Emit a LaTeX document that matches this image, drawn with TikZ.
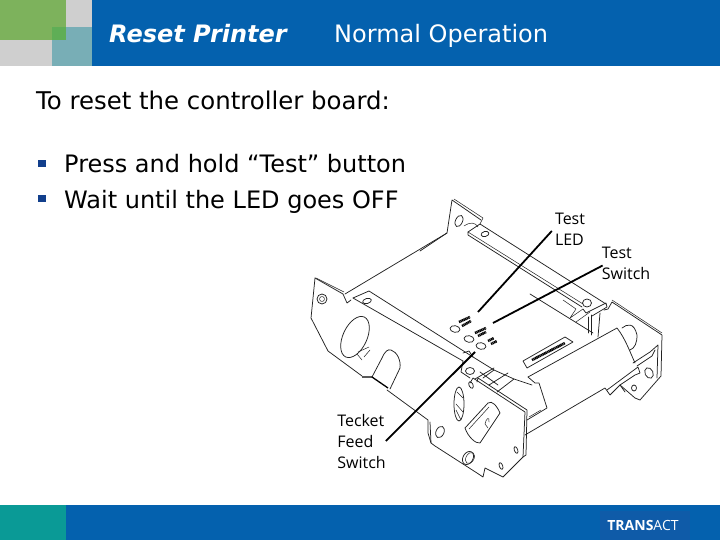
\documentclass[tikz,border=0pt]{standalone}
\usepackage{fontspec}
\setmainfont{DejaVu Sans}
\newfontfamily\labelfont{Open Sans}
\definecolor{headblue}{HTML}{0461AE}
\definecolor{boxblue}{HTML}{0F5BA8}
\definecolor{leafgreen}{HTML}{7DB25C}
\definecolor{lightgray}{HTML}{CFCFCF}
\definecolor{paleteal}{HTML}{78AEB6}
\definecolor{midgreen}{HTML}{5FAE56}
\definecolor{footteal}{HTML}{0A9A96}
\definecolor{bulletnavy}{HTML}{123F8C}
\definecolor{inkgray}{HTML}{222222}
\tikzset{
  slidetext/.style={anchor=base west, inner sep=0pt, font=\fontsize{24}{28}\selectfont},
  partlabel/.style={align=left, inner sep=0pt, font=\labelfont\fontsize{16}{21}\selectfont},
  part/.style={draw=inkgray, line width=0.75pt, line join=round, line cap=round},
  thinpart/.style={draw=inkgray, line width=0.5pt, line join=round, line cap=round},
  pointer/.style={line width=1.8pt},
  tinyprint/.style={line width=2.6pt, dash pattern=on 1.2pt off 0.5pt},
  bulletmark/.style={fill=bulletnavy, inner sep=0pt, minimum width=8pt, minimum height=7pt}
}
\begin{document}
\begin{tikzpicture}[x=1pt, y=-1pt]
        \useasboundingbox (0,0) rectangle (720,540);

        % header and footer
        \fill[headblue] (92,0) rectangle (720,66);
        \fill[lightgray] (0,0) rectangle (92,66);
        \fill[leafgreen] (0,0) rectangle (66,40);
        \fill[paleteal] (52,27) rectangle (92,66);
        \fill[midgreen] (52,27) rectangle (66,40);
        \fill[headblue] (66,505) rectangle (720,540);
        \fill[footteal] (0,505) rectangle (66,540);
        \fill[boxblue] (600,511) rectangle (690,540);

        % texts
        \node (title) [slidetext, white, font=\fontsize{24}{28}\selectfont\bfseries\itshape] at (109,43) {Reset Printer};
        \node (subtitle) [slidetext, white] at (334,43) {Normal Operation};
        \node (intro) [slidetext, font=\fontsize{24.4}{28}\selectfont] at (36,110) {To reset the controller board:};
        \node (bullet1) [bulletmark] at (41.5,163.5) {};
        \node (bullet2) [bulletmark] at (41.5,198.5) {};
        \node (press) [slidetext] at (64,173) {Press and hold “Test” button};
        \node (wait) [slidetext] at (64,208) {Wait until the LED goes OFF};
        \node (logo) [white, inner sep=0pt, font=\labelfont\fontsize{14}{16}\selectfont] at (643,525) {\textbf{TRANS}ACT};

        % rear plate and top panel
        \draw[part] (420,251) -- (447,233) -- (452,200) -- (481,220);
        \draw[thinpart] (454,199) -- (483,218) -- (480,224);
        \draw[part] (447,233) -- (345,294);
        \draw[part] (459,221) ellipse [x radius=3.5, y radius=6, rotate=-25];
        \draw[thinpart] (464,226) .. controls (470,222) and (475,222) .. (478,227);
        \draw[part] (468,232) -- (480,224) -- (606,304);
        \draw[part] (468,232) -- (468,235) -- (582,307);
        \draw[thinpart] (468,232) -- (583,304);
        \draw[part] (485,234) ellipse [x radius=4, y radius=2.5, rotate=15];
        \draw[part] (530,294) -- (593,333);
        \draw[part] (587,303) ellipse [x radius=4.5, y radius=4];
        \draw[part] (583,309) -- (586,313) -- (606,303) -- (607,307) -- (592,316);
        \draw[thinpart] (570,318) -- (583,309) (576,322) -- (590,312) (563,300) -- (576,309) -- (570,318);
        \draw[part] (588,317) -- (588,333) (591,315) -- (591,335);
        \draw[part] (600,313) -- (598,337);

        % left plate
        \draw[part] (315,278) -- (343,294) -- (347,303) -- (351,300);
        \draw[part] (315,278) -- (311,318) -- (328,351) -- (362,376);
        \draw[thinpart] (316,278) -- (344,292);
        \draw[part] (322,299) circle [radius=5];
        \draw[thinpart] (322,299) circle [radius=2.5];
        \draw[part] (355,337) ellipse [x radius=12, y radius=22, rotate=-25];
        \draw[thinpart] (358,352) -- (369,347) (357,354) -- (362,360) (364,357) -- (370,350);
        \draw[part] (372,377) -- (382,358) .. controls (385,351) and (388,349) .. (391,350) .. controls (397,352) and (401,360) .. (400,368) -- (390,389);
        \draw[line width=1.3pt] (362,377) -- (372,377) -- (388,388);
        \draw[part] (387,390) -- (428,420) -- (428,433) -- (431,443);

        % board on the left plate
        \draw[part] (353,298) -- (369,291) -- (473,357);
        \draw[part] (353,298) -- (463,361);
        \draw[part] (367,301) ellipse [x radius=4.5, y radius=2.5, rotate=15];
        \draw[part] (473,357) -- (494,370) -- (483,378);
        \draw[part] (463,361) -- (461,372) -- (470,378);
        \draw[part] (463,353) -- (469,351) -- (473,357);
        \draw[part] (470,371) ellipse [x radius=4.5, y radius=3.5];

        % test marks on the board
        \draw[part] (455,329) ellipse [x radius=5, y radius=3.3, rotate=-10];
        \draw[part] (469,339) ellipse [x radius=5, y radius=3.3, rotate=-10];
        \draw[part] (481,346) ellipse [x radius=5, y radius=3.3, rotate=-10];
        \draw[tinyprint] (459,322) -- (470,317);
        \draw[tinyprint] (462,326) -- (471,321);
        \draw[tinyprint] (475,333) -- (486,328);
        \draw[tinyprint] (478,336) -- (486,332);
        \draw[tinyprint] (488,341) -- (494,338);
        \draw[tinyprint] (491,344) -- (497,341);

        % front plate
        \draw[part] (470,383) -- (473,378) -- (525,412) -- (523,457) -- (503,477) -- (485,468) -- (483,477) -- (477,473) -- (435,446) -- (431,443) -- (430,422);
        \draw[part] (477,382) -- (478,378) -- (527,410) -- (526,455) -- (523,457);
        \draw[part] (471,385) ellipse [x radius=2, y radius=3.5, rotate=25];
        \draw[part] (459,404) ellipse [x radius=5, y radius=17];
        \draw[thinpart] (457,392) -- (463,398) (456,404) -- (463,412) (456,410) -- (461,420);
        \draw[part] (465,428) -- (488,403) .. controls (492,400) and (497,406) .. (500,413) -- (480,443) .. controls (476,444) and (468,437) .. (465,428);
        \draw[thinpart] (469,429) -- (489,407) (489,422) .. controls (490,416) and (486,418) .. (485,424) -- (488,428);
        \draw[part] (440,432) ellipse [x radius=4, y radius=6, rotate=-25];
        \draw[part] (468,458) ellipse [x radius=5, y radius=7, rotate=-30];
        \draw[thinpart] (470,458) ellipse [x radius=4, y radius=6, rotate=-30];
        \draw[part] (516,450) ellipse [x radius=1.7, y radius=3.5, rotate=20];
        \draw[part] (501,466) ellipse [x radius=1.7, y radius=3.5, rotate=20];
        \draw[part] (475,379) -- (494,368) (489,385) -- (508,373) (497,392) -- (514,379) (480,372) -- (498,385);
        \draw[part] (494,370) -- (514,379) -- (532,385);

        % roller and right plate
        \draw[part] (528,377) -- (617,328) .. controls (625,338) and (630,352) .. (635,363);
        \draw[part] (528,377) -- (535,383) -- (539,383) -- (547,408) -- (527,420);
        \draw[thinpart] (529,417) -- (541,410);
        \draw[part] (525,435) -- (605,388) -- (610,395) -- (620,385) -- (625,392);
        \draw[part] (622,328) .. controls (627,324) and (634,322) .. (637,335) .. controls (637,343) and (635,348) .. (630,350);
        \draw[part] (620,385) -- (635,398) -- (640,400) -- (661,376) -- (662,335) -- (612,302) -- (608,309) -- (604,310);
        \draw[thinpart] (612,300) -- (662,333);
        \draw[part] (633,363) -- (650,352) -- (658,345) -- (657,378);
        \draw[part] (637,366) -- (652,356) -- (655,350);
        \draw[part] (649,373) ellipse [x radius=4, y radius=5.5, rotate=25];
        \draw[part] (634,388) ellipse [x radius=2.5, y radius=3];
        \draw[part] (607,390) -- (638,367) -- (640,373) -- (635,375) -- (620,385);

        % label plate
        \draw[part] (523,361) -- (565,337) -- (573,342) -- (527,368) -- cycle;
        \draw[tinyprint] (532,360) -- (565,343);

        % callouts
        \node (ledlabel) [partlabel] at (570,229) {Test\\LED};
        \node (switchlabel) [partlabel] at (626,263.5) {Test\\Switch};
        \node (feedlabel) [partlabel] at (361.5,441) {Tecket\\Feed\\Switch};
        \coordinate (ledmark) at (478,312);
        \coordinate (switchmark) at (493,323);
        \coordinate (feedmark) at (475,352);
        \draw[pointer] (ledlabel.west) ++(-3,2) -- (ledmark);
        \draw[pointer] (switchlabel.west) ++(1,2) -- (switchmark);
        \draw[pointer] (feedlabel.east) -- (feedmark);
    \end{tikzpicture}
\end{document}
